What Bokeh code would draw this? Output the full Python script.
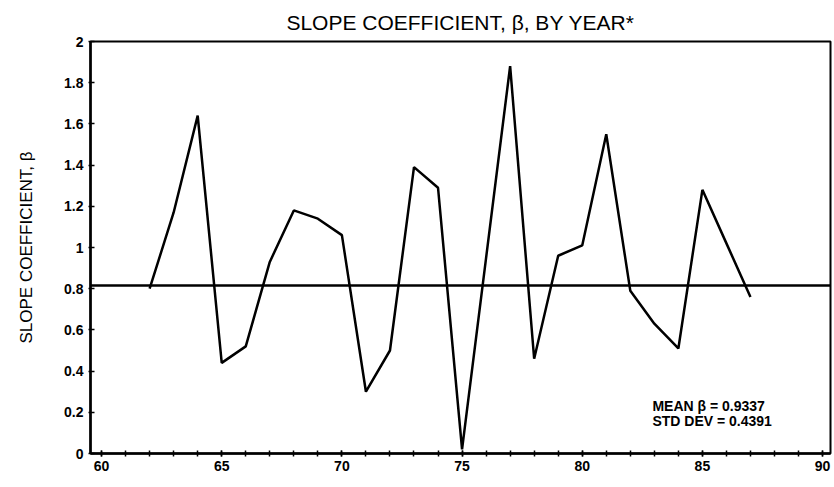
from bokeh.plotting import figure
from bokeh.models import Range1d, Span, Label, FixedTicker, CustomJSTickFormatter
from bokeh.embed import file_html
from bokeh.resources import INLINE

years = [62, 63, 64, 65, 66, 67, 68, 69, 70, 71, 72, 73, 74, 75,
         76, 77, 78, 79, 80, 81, 82, 83, 84, 85, 86, 87]
beta = [0.80, 1.17, 1.64, 0.44, 0.52, 0.93, 1.18, 1.14, 1.06, 0.30, 0.50, 1.39, 1.29, 0.02,
        0.95, 1.88, 0.46, 0.96, 1.01, 1.55, 0.79, 0.63, 0.51, 1.28, 1.02, 0.76]
mean_line = 0.815
x_ticks = [60, 65, 70, 75, 80, 85, 90]
y_ticks = [0, 0.2, 0.4, 0.6, 0.8, 1.0, 1.2, 1.4, 1.6, 1.8, 2.0]
title_text = "SLOPE COEFFICIENT, \u03b2, BY YEAR*"
y_label = "SLOPE COEFFICIENT, \u03b2"
stats_lines = ["MEAN \u03b2 =  0.9337", "STD DEV = 0.4391"]

FONT = "Liberation Sans"

p = figure(width=834, height=487, output_backend="svg", toolbar_location=None,
           x_range=Range1d(59.54, 90.33), y_range=Range1d(0, 2),
           min_border_left=90, min_border_right=4, min_border_top=41, min_border_bottom=34)
p.background_fill_color = "white"
p.border_fill_color = "white"
p.outline_line_color = "black"
p.outline_line_width = 2
p.xgrid.visible = False
p.ygrid.visible = False

p.title.text = title_text
p.title.align = "center"
p.title.standoff = 15
p.title.text_font = FONT
p.title.text_font_size = "21px"
p.title.text_font_style = "normal"
p.title.text_color = "black"

p.line(years, beta, line_color="black", line_width=2.5)
p.add_layout(Span(location=mean_line, dimension="width", line_color="black", line_width=2.5))

# x axis
xa = p.xaxis[0]
xa.ticker = FixedTicker(ticks=x_ticks, minor_ticks=list(range(60, 91)))
xa.axis_line_width = 2.5
xa.major_tick_in = 3
xa.major_tick_out = 3
xa.minor_tick_in = 3
xa.minor_tick_out = 3
xa.major_tick_line_width = 1.5
xa.minor_tick_line_width = 1.5
xa.major_label_text_font = FONT
xa.major_label_text_font_style = "bold"
xa.major_label_text_font_size = "14px"
xa.major_label_text_color = "black"
xa.major_label_standoff = 4

# y axis
ya = p.yaxis[0]
ya.ticker = FixedTicker(ticks=y_ticks, minor_ticks=[])
ya.formatter = CustomJSTickFormatter(code="return tick.toFixed(1).replace(/\\.0$/, '');")
ya.axis_line_width = 2.5
ya.major_tick_in = 4
ya.major_tick_out = 2
ya.major_tick_line_width = 1.5
ya.minor_tick_line_color = None
ya.major_label_text_font = FONT
ya.major_label_text_font_style = "bold"
ya.major_label_text_font_size = "14px"
ya.major_label_text_color = "black"
ya.major_label_standoff = 5
ya.axis_label = y_label
ya.axis_label_text_font = FONT
ya.axis_label_text_font_style = "normal"
ya.axis_label_text_font_size = "17px"
ya.axis_label_text_color = "black"
ya.axis_label_standoff = 25

# stats annotation
for i, s in enumerate(stats_lines):
    p.add_layout(Label(x=82.92, y=0.233, y_offset=-15 * i, text=s, text_align="left",
                       text_baseline="middle", text_font=FONT, text_font_size="14px",
                       text_font_style="bold", text_color="black"))

open("out.html", "w").write(file_html(p, INLINE))
